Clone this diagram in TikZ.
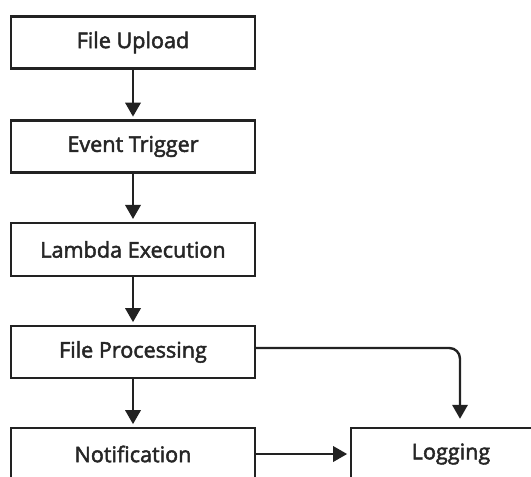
\documentclass[tikz,border=0pt]{standalone}
\usepackage{fontspec}
\setmainfont{Open Sans}
\newfontfamily\labelfont{Open Sans}[FakeBold=2.2]
\usetikzlibrary{arrows.meta}
\definecolor{ink}{HTML}{222222}
\definecolor{txt}{HTML}{262626}
\tikzset{
  stagebox/.style={draw=ink, line width=1.8pt, fill=white, rectangle,
    minimum width=183pt, minimum height=39pt, inner sep=0pt,
    font=\labelfont\fontsize{16.2pt}{19pt}\selectfont, text=txt},
  flow/.style={draw=ink, line width=1.8pt,
    -{Triangle[length=10.5pt,width=11.5pt]}, shorten >=2pt},
}
\begin{document}
\begin{tikzpicture}[x=0.75pt, y=-0.75pt]
  \useasboundingbox (0,0) rectangle (531,476);
  \clip (0,0) rectangle (531,476);
  \fill[white] (0,0) rectangle (531,476);

  \node[stagebox] (upload)  at (133,42.5) {File Upload};
  \node[stagebox] (trigger) at (133,146.5) {Event Trigger};
  \node[stagebox, minimum height=40pt] (lambda) at (133,249.5) {Lambda Execution};
  \node[stagebox] (process) at (133,352) {File Processing};
  \node[stagebox] (notify)  at (133,454) {Notification};
  \node[stagebox, minimum width=150pt] (logging) at (451,454) {Logging};

  \coordinate (turn) at (460,348);

  \draw[flow] (upload) -- (trigger);
  \draw[flow] (trigger) -- (lambda);
  \draw[flow] (lambda) -- (process);
  \draw[flow] (process) -- (notify);
  \draw[flow] (notify.east) -- (notify.east -| logging.west);
  \draw[flow, rounded corners=8pt, shorten >=6pt] (process.east |- turn) -- (turn) -- (turn |- logging.north);
\end{tikzpicture}
\end{document}
